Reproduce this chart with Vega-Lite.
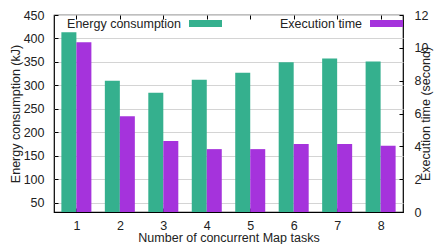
{
  "$schema": "https://vega.github.io/schema/vega-lite/v6.json",
  "autosize": "none",
  "width": 349,
  "height": 197,
  "padding": {"left": 54, "top": 15, "right": 37, "bottom": 32},
  "background": "white",
  "config": {
    "font": "Liberation Sans",
    "view": {"stroke": "black", "strokeWidth": 1.2},
    "axis": {"labelFont": "Liberation Sans", "titleFont": "Liberation Sans", "labelFontSize": 12.5, "titleFontSize": 12.5, "labelColor": "#222", "titleColor": "#222", "titleFontWeight": "normal", "domain": false, "tickColor": "black", "tickWidth": 1},
    "legend": {"labelFont": "Liberation Sans", "labelFontSize": 12.5, "labelColor": "#222"}
  },
  "data": {"values": [
    {"n": 1, "energy": 413, "time": 10.34},
    {"n": 2, "energy": 310, "time": 5.84},
    {"n": 3, "energy": 284, "time": 4.32},
    {"n": 4, "energy": 312, "time": 3.83},
    {"n": 5, "energy": 327, "time": 3.83},
    {"n": 6, "energy": 349, "time": 4.14},
    {"n": 7, "energy": 357, "time": 4.14},
    {"n": 8, "energy": 351, "time": 4.03}
  ]},
  "layer": [
    {
      "mark": {"type": "bar", "width": 15, "xOffset": -7.5, "clip": true},
      "encoding": {
        "x": {"field": "n", "type": "quantitative", "scale": {"domain": [0.6, 8.4], "nice": false, "zero": false},
          "axis": {"orient": "bottom", "values": [1,2,3,4,5,6,7,8], "grid": false, "tickSize": -4, "labelPadding": 11, "title": "Number of concurrent Map tasks", "titlePadding": 0}},
        "y": {"field": "energy", "type": "quantitative", "scale": {"domain": [30, 450], "nice": false, "zero": false},
          "axis": {"orient": "left", "values": [50,100,150,200,250,300,350,400,450], "grid": true, "gridColor": "#d4d4d4", "gridWidth": 1, "tickSize": -4, "labelPadding": 14, "title": "Energy consumption (kJ)", "titlePadding": 1}},
        "color": {"datum": "Energy consumption", "scale": {"range": ["#35b08e"]},
          "legend": {"orient": "none", "legendX": 135, "legendY": -8, "title": null, "symbolType": "M-1,-0.212H1V0.212H-1Z", "symbolSize": 1089, "symbolStrokeWidth": 0, "labelAlign": "right", "labelOffset": -41, "padding": 0}}
      }
    },
    {
      "mark": {"type": "bar", "width": 15, "xOffset": 7.5, "clip": true},
      "encoding": {
        "x": {"field": "n", "type": "quantitative",
          "axis": {"orient": "top", "values": [1,2,3,4,5,6,7,8], "grid": false, "labels": false, "tickSize": -4, "title": null}},
        "y": {"field": "time", "type": "quantitative", "scale": {"domain": [0, 12], "nice": false},
          "axis": {"orient": "right", "values": [0,2,4,6,8,10,12], "grid": false, "tickSize": -4, "labelPadding": 15, "title": "Execution time (second)", "titleAngle": 270, "titleBaseline": "bottom", "titlePadding": 5}},
        "color": {"datum": "Execution time", "scale": {"range": ["#a533dc"]},
          "legend": {"orient": "none", "legendX": 316, "legendY": -8, "title": null, "symbolType": "M-1,-0.212H1V0.212H-1Z", "symbolSize": 1089, "symbolStrokeWidth": 0, "labelAlign": "right", "labelOffset": -41, "padding": 0}}
      }
    }
  ],
  "resolve": {"scale": {"y": "independent", "color": "independent"}, "axis": {"x": "independent", "y": "independent"}}
}
